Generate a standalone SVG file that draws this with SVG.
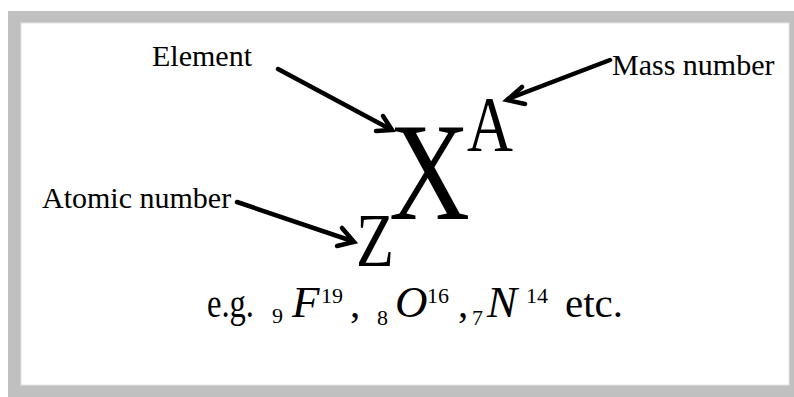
<svg xmlns="http://www.w3.org/2000/svg" width="794" height="397" viewBox="0 0 794 397">
<style>
.lbl{font-family:"Liberation Serif","Times New Roman",serif;font-size:30px;fill:#000}
.big{font-family:"Liberation Serif","Times New Roman",serif;fill:#000}
.eq{font-family:"Liberation Serif","Times New Roman",serif;font-size:41px;fill:#000}
.it{font-style:italic;font-size:45px}
.sm{font-family:"Liberation Serif","Times New Roman",serif;font-size:22px;fill:#000}
.arr{fill:none;stroke:#000;stroke-width:4.5;stroke-linecap:round;stroke-linejoin:miter}
</style>
<rect x="0" y="0" width="794" height="397" fill="#fff"/>
<rect x="8" y="11" width="790" height="390" fill="#c0c0c0"/>
<rect x="21" y="23" width="768" height="362" fill="#fff" stroke="#e4e4e4" stroke-width="1"/>
<g id="symbol">
<text class="big" x="389" y="219" font-size="139" textLength="81" lengthAdjust="spacingAndGlyphs">X</text>
<text class="big" x="467" y="150" font-size="79" textLength="46" lengthAdjust="spacingAndGlyphs">A</text>
<text class="big" x="356" y="266" font-size="76" textLength="38" lengthAdjust="spacingAndGlyphs">Z</text>
</g>
<g id="element"><text class="lbl" x="152" y="66">Element</text></g>
<g id="mass"><text class="lbl" x="612" y="75">Mass number</text></g>
<g id="atomic"><text class="lbl" x="42" y="208">Atomic number</text></g>
<g id="connectors">
<path class="arr" d="M278,69 L390,129"/>
<path class="arr" d="M376,131 L392,130 L383,116"/>
<path class="arr" d="M610,60 L508,99"/>
<path class="arr" d="M522,87 L507,100 L525,104"/>
<path class="arr" d="M237,202 L352,241"/>
<path class="arr" d="M342,228 L354,242 L337,246"/>
</g>
<g id="example">
<text class="eq" x="207" y="317" textLength="47" lengthAdjust="spacingAndGlyphs">e.g.</text>
<text class="sm" x="272" y="323">9</text>
<text class="eq it" x="292" y="317">F</text>
<text class="sm" x="321" y="303">19</text>
<text class="eq" x="350" y="317">,</text>
<text class="sm" x="377" y="325">8</text>
<text class="eq it" x="395" y="317">O</text>
<text class="sm" x="427" y="303">16</text>
<text class="eq" x="458" y="317">,</text>
<text class="sm" x="472" y="325">7</text>
<text class="eq it" x="487" y="317">N</text>
<text class="sm" x="526" y="303">14</text>
<text class="eq" x="565" y="317">etc.</text>
</g>
</svg>
